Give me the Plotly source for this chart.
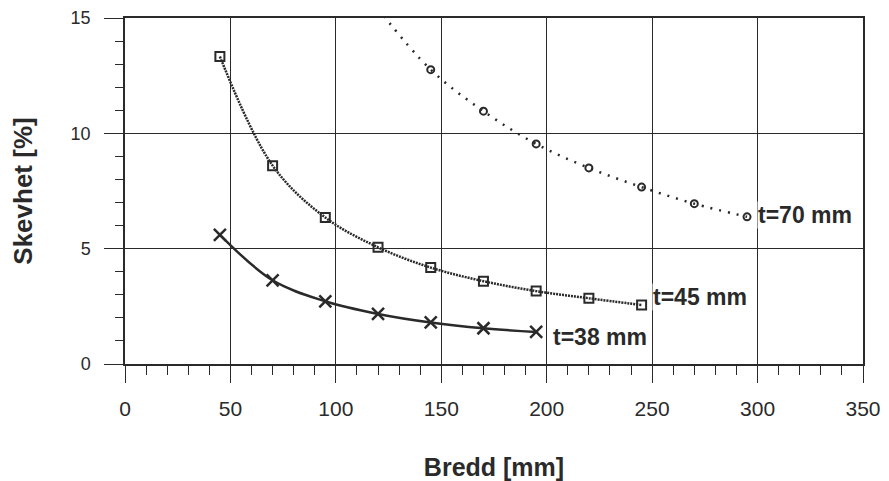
import plotly.graph_objects as go

# Data
x38 = [45, 70, 95, 120, 145, 170, 195]
y38 = [5.6, 3.63, 2.72, 2.17, 1.80, 1.55, 1.39]
x45 = [45, 70, 95, 120, 145, 170, 195, 220, 245]
y45 = [13.33, 8.6, 6.35, 5.06, 4.18, 3.59, 3.16, 2.85, 2.56]
x70 = [120, 145, 170, 195, 220, 245, 270, 295]
y70 = [15.4, 12.76, 10.96, 9.54, 8.50, 7.67, 6.95, 6.38]
labels = ["t=38 mm", "t=45 mm", "t=70 mm"]
label_x = [202.5, 250, 299.5]
label_y = [1.16, 2.92, 6.48]

ink = "#2a2a2a"
fig = go.Figure()
fig.add_trace(go.Scatter(x=x38, y=y38, mode="lines+markers",
    line=dict(color=ink, width=2.5, shape="spline"),
    marker=dict(symbol="x-thin", size=12, line=dict(color=ink, width=2.5))))
fig.add_trace(go.Scatter(x=x45, y=y45, mode="lines+markers",
    line=dict(color=ink, width=2.5, dash="2px,1px", shape="spline"),
    marker=dict(symbol="square-open", size=9, color=ink, line=dict(color=ink, width=2))))
fig.add_trace(go.Scatter(x=x70, y=y70, mode="lines+markers",
    line=dict(color=ink, width=2.5, dash="2px,7px", shape="spline"),
    marker=dict(symbol="circle-open", size=7, color=ink, line=dict(color=ink, width=2))))

for t, lx, ly in zip(labels, label_x, label_y):
    fig.add_annotation(x=lx, y=ly, text="<b>" + t + "</b>", showarrow=False, xanchor="left",
                       font=dict(family="Liberation Sans, Arial", size=23, color=ink),
                       bgcolor="white", borderpad=0)

fig.update_layout(
    width=889, height=481, showlegend=False,
    margin=dict(l=117, r=34, t=10, b=125),
    plot_bgcolor="white", paper_bgcolor="white",
    font=dict(family="Liberation Sans, Arial", color=ink),
)
fig.update_xaxes(range=[0, 350], tickvals=[0, 50, 100, 150, 200, 250, 300, 350],
    automargin=False, ticklabeloverflow="allow",
    showgrid=True, gridcolor=ink, gridwidth=1, showline=True, linecolor=ink, linewidth=1.5,
    mirror=True, ticks="outside", ticklen=17, tickcolor=ink, tickwidth=1.2,
    ticklabelstandoff=8, tickfont=dict(size=21),
    minor=dict(ticks="outside", ticklen=9, dtick=10, tickcolor=ink, showgrid=False),
    title=dict(text="<b>Bredd [mm]</b>", font=dict(size=25), standoff=40), zeroline=False)
fig.update_yaxes(range=[0, 15], tickvals=[0, 5, 10, 15],
    automargin=False, ticklabeloverflow="allow",
    showgrid=True, gridcolor=ink, gridwidth=1, showline=True, linecolor=ink, linewidth=1.5,
    mirror=True, ticks="outside", ticklen=19, tickcolor=ink, tickwidth=1.2,
    ticklabelstandoff=10, tickfont=dict(size=18),
    minor=dict(ticks="outside", ticklen=8, dtick=1, tickcolor=ink, showgrid=False),
    title=dict(text="<b>Skevhet [%]</b>", font=dict(size=26), standoff=33), zeroline=False)

fig.write_html("out.html")
